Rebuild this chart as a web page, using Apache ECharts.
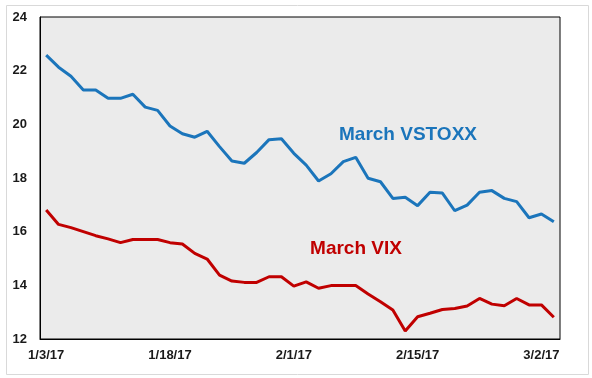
<!DOCTYPE html>
<html>
<head>
<meta charset="utf-8">
<script src="https://cdn.jsdelivr.net/npm/echarts@6/dist/echarts.min.js"></script>
<style>
  html, body { margin: 0; padding: 0; background: #fff; }
  #chart { width: 592px; height: 378px; }
</style>
</head>
<body>
<div id="chart"></div>
<script>
// trading days, US calendar
var dates = ['1/3/17', '1/4/17', '1/5/17', '1/6/17', '1/9/17', '1/10/17', '1/11/17', '1/12/17', '1/13/17', '1/17/17',
    '1/18/17', '1/19/17', '1/20/17', '1/23/17', '1/24/17', '1/25/17', '1/26/17', '1/27/17', '1/30/17', '1/31/17',
    '2/1/17', '2/2/17', '2/3/17', '2/6/17', '2/7/17', '2/8/17', '2/9/17', '2/10/17', '2/13/17', '2/14/17',
    '2/15/17', '2/16/17', '2/17/17', '2/21/17', '2/22/17', '2/23/17', '2/24/17', '2/27/17', '2/28/17', '3/1/17',
    '3/2/17', '3/3/17'];

var vstoxx = [22.58, 22.13, 21.79, 21.28, 21.28, 20.97, 20.97, 21.12, 20.64, 20.52,
    19.94, 19.65, 19.52, 19.74, 19.17, 18.63, 18.55, 18.95, 19.43, 19.46,
    18.92, 18.48, 17.89, 18.16, 18.61, 18.77, 17.99, 17.86, 17.24, 17.28,
    16.97, 17.47, 17.44, 16.78, 16.99, 17.47, 17.53, 17.24, 17.12, 16.52,
    16.66, 16.37];

var vix = [16.81, 16.27, 16.15, 16.0, 15.85, 15.73, 15.59, 15.71, 15.71, 15.71,
    15.59, 15.54, 15.19, 14.98, 14.38, 14.16, 14.11, 14.11, 14.32, 14.32,
    13.97, 14.13, 13.89, 13.99, 13.99, 13.99, 13.68, 13.39, 13.08, 12.30,
    12.83, 12.96, 13.10, 13.14, 13.23, 13.51, 13.30, 13.24, 13.51, 13.27,
    13.27, 12.81];

var yTicks = [12, 24, 2]; // min, max, step

var myChart = echarts.init(document.getElementById('chart'));
var labelFont = { fontFamily: 'Arial, "Liberation Sans", sans-serif', fontWeight: 'bold', fontSize: 13, color: '#1a1a1a' };

var option = {
    animation: false,
    grid: {
        left: 40,
        top: 17,
        width: 520,
        height: 322,
        show: true,
        backgroundColor: '#ebebeb',
        borderColor: '#000',
        borderWidth: 1
    },
    xAxis: {
        type: 'category',
        data: dates,
        boundaryGap: true,
        axisLine: { show: true, lineStyle: { color: '#000' } },
        axisTick: { show: false },
        axisLabel: Object.assign({ interval: 9, margin: 10 }, labelFont),
        splitLine: { show: false }
    },
    yAxis: {
        type: 'value',
        min: yTicks[0],
        max: yTicks[1],
        interval: yTicks[2],
        axisLine: { show: true, lineStyle: { color: '#000' } },
        axisTick: { show: false },
        axisLabel: Object.assign({ margin: 13 }, labelFont),
        splitLine: { show: false }
    },
    series: [
        {
            name: 'March VSTOXX',
            type: 'line',
            data: vstoxx,
            symbol: 'none',
            lineStyle: { color: '#1b75bb', width: 3 },
            itemStyle: { color: '#1b75bb' }
        },
        {
            name: 'March VIX',
            type: 'line',
            data: vix,
            symbol: 'none',
            lineStyle: { color: '#c00000', width: 3 },
            itemStyle: { color: '#c00000' }
        }
    ],
    graphic: [
        {
            type: 'rect',
            left: 4,
            top: 3,
            shape: { width: 582, height: 369 },
            style: { fill: 'none', stroke: '#d9d9d9', lineWidth: 1 },
            z: -10
        },
        {
            type: 'text',
            x: 408,
            y: 135,
            style: {
                text: 'March VSTOXX',
                fill: '#1b75bb',
                font: 'bold 19px Arial, "Liberation Sans", sans-serif',
                align: 'center',
                verticalAlign: 'middle'
            }
        },
        {
            type: 'text',
            x: 356,
            y: 249,
            style: {
                text: 'March VIX',
                fill: '#c00000',
                font: 'bold 19px Arial, "Liberation Sans", sans-serif',
                align: 'center',
                verticalAlign: 'middle'
            }
        }
    ]
};
myChart.setOption(option);
</script>
</body>
</html>
